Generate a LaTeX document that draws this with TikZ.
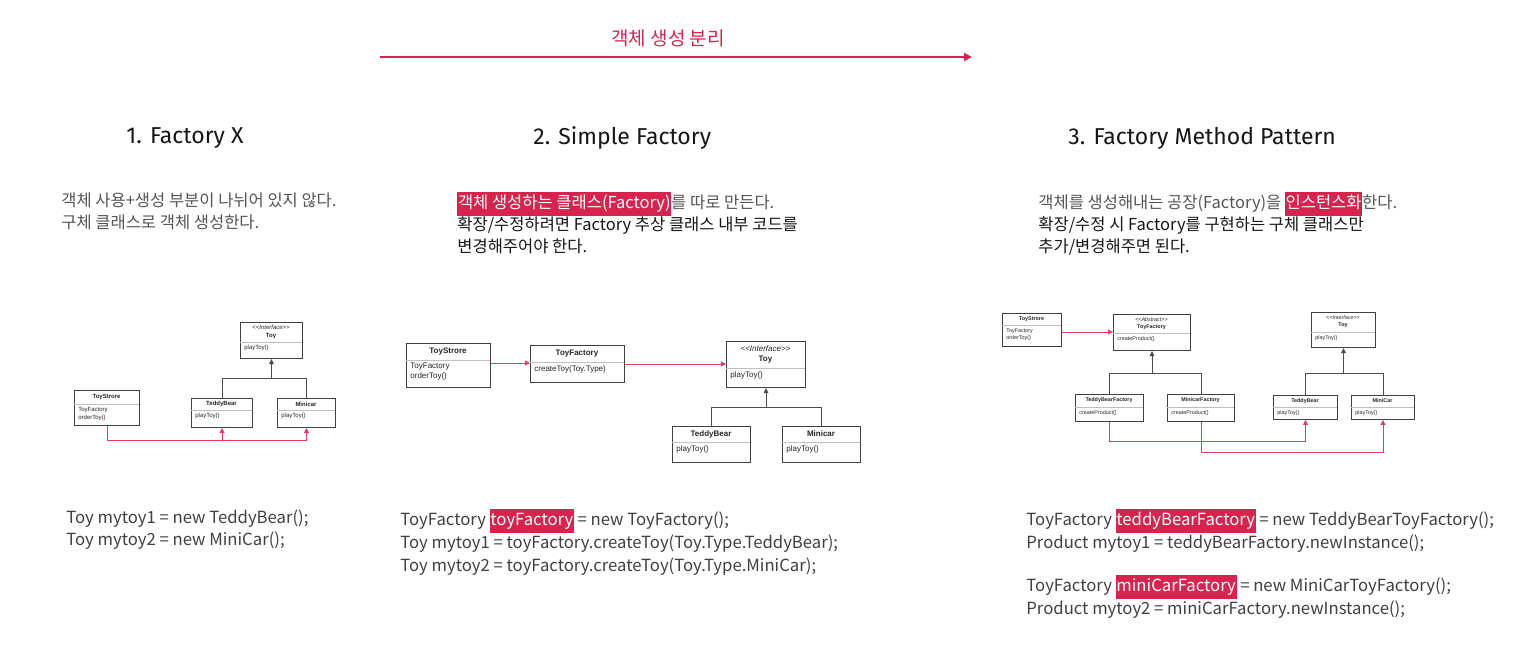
\documentclass[tikz,border=0pt]{standalone}
\usepackage{fontspec}
\setmainfont{Noto Sans CJK KR}
\newfontfamily\headfont{Fira Sans}
\newfontfamily\umlfont{Liberation Sans}
\usetikzlibrary{arrows.meta,calc}

\definecolor{hlred}{HTML}{D6244F}
\definecolor{linkred}{HTML}{E23C63}
\definecolor{txtgray}{HTML}{555555}
\definecolor{codegray}{HTML}{404040}
\definecolor{txtdark}{HTML}{161616}

\newcommand\hl[1]{{\setlength{\fboxsep}{0.3pt}\colorbox{hlred}{\textcolor{white}{\strut #1}}}}
\newcommand\umlA{\fontsize{3}{3.9}\selectfont}
\newcommand\umlB{\fontsize{4}{5}\selectfont}
\newcommand\umlC{\fontsize{2.7}{3.5}\selectfont}
\newcommand\stereo[1]{\textit{\textless\textless #1\textgreater\textgreater}}

\tikzset{
  umlrect/.style={draw=black!75, line width=0.5pt, inner sep=0pt, anchor=north west},
  umldiv/.style={draw=black!25, line width=0.4pt},
  umltext/.style={inner sep=0pt, text=black!85},
  umlline/.style={draw=black!70, line width=0.5pt},
  inherit/.style={umlline, -{Triangle[length=2.6pt,width=2.4pt]}},
  relline/.style={draw=linkred, line width=0.5pt, -{Triangle[length=2.4pt,width=2.4pt]}},
  headtext/.style={anchor=west, inner sep=0pt, font=\headfont\fontsize{11.5}{13}\selectfont, text=txtdark},
  desctext/.style={anchor=north west, inner sep=0pt, align=left, font=\fontsize{8.25}{11}\selectfont, text=txtdark},
  codetext/.style={anchor=north west, inner sep=0pt, align=left, font=\fontsize{8.35}{11.3}\selectfont, text=codegray},
}

% one uml class box: name, x1, y1, x2, y2, divider y, header, body, font
\newcommand\umlbox[9]{%
  \pgfmathsetmacro\boxw{(#4-#2)*0.5}%
  \pgfmathsetmacro\boxh{(#5-#3)*0.5}%
  \node[umlrect, minimum width=\boxw pt, minimum height=\boxh pt] (#1) at (#2,#3) {};
  \draw[umldiv] (#2,#6) -- (#4,#6);
  \node[umltext, font=\umlfont#9, align=center] at ({(#2+#4)/2},{(#3+#6)/2}) {#7};
  \node[umltext, font=\umlfont#9, align=left, anchor=north west] at (#2+4,#6+3) {#8};
}

\begin{document}
\begin{tikzpicture}[x=0.5pt,y=-0.5pt]
  \useasboundingbox[fill=white] (0,0) rectangle (1530,670);

  % title arrow
  \node[text=hlred, font=\fontsize{9.5}{11}\selectfont] (title) at (668,38) {객체 생성 분리};
  \coordinate (arrowS) at (380,57);
  \coordinate (arrowE) at (972,57);
  \draw[hlred, line width=1.2pt, -{Triangle[length=4pt,width=4pt]}] (arrowS) -- (arrowE);

  % headings
  \node[headtext] (headA) at (126,138) {1. Factory X};
  \node[headtext] (headB) at (533,138) {2. Simple Factory};
  \node[headtext] (headC) at (1068,138) {3. Factory Method Pattern};

  % descriptions
  \node[desctext, text=txtgray] (descA) at (61,192) {객체 사용+생성 부분이 나뉘어 있지 않다.\\구체 클래스로 객체 생성한다.};
  \node[desctext] (descB) at (457,192) {\textcolor{txtgray}{\hl{객체 생성하는 클래스(Factory)}를 따로 만든다.}\\확장/수정하려면 Factory 추상 클래스 내부 코드를\\변경해주어야 한다.};
  \node[desctext] (descC) at (1038,192) {\textcolor{txtgray}{객체를 생성해내는 공장(Factory)을 \hl{인스턴스화}한다.}\\확장/수정 시 Factory를 구현하는 구체 클래스만\\추가/변경해주면 된다.};

  % diagram 1
  \umlbox{toyA}{240}{322}{302}{358}{342}{\stereo{Interface}\\\textbf{Toy}}{playToy()}{\umlA}
  \umlbox{storeA}{74}{390}{139}{425}{404}{\textbf{ToyStrore}}{ToyFactory\\orderToy()}{\umlA}
  \umlbox{teddyA}{191}{398}{252}{427}{410}{\textbf{TeddyBear}}{playToy()}{\umlA}
  \umlbox{minicarA}{277}{398}{335}{427}{410}{\textbf{Minicar}}{playToy()}{\umlA}
  \draw[umlline] (teddyA.north) -- (teddyA.north |- 0,378) -- (minicarA.north |- 0,378) -- (minicarA.north);
  \draw[inherit] (toyA.south |- 0,378) -- (toyA.south);
  \draw[relline] (storeA.south) -- (storeA.south |- 0,440) -| (minicarA.south);
  \draw[relline] (teddyA.south |- 0,440) -- (teddyA.south);

  % diagram 2
  \umlbox{storeB}{406}{343}{490}{387}{360}{\textbf{ToyStrore}}{ToyFactory\\orderToy()}{\umlB}
  \umlbox{factoryB}{530}{345}{624}{382}{362}{\textbf{ToyFactory}}{createToy(Toy.Type)}{\umlB}
  \umlbox{toyB}{726}{341}{805}{387}{368}{\stereo{Interface}\\\textbf{Toy}}{playToy()}{\umlB}
  \umlbox{teddyB}{672}{426}{750}{462}{442}{\textbf{TeddyBear}}{playToy()}{\umlB}
  \umlbox{minicarB}{782}{426}{860}{462}{442}{\textbf{Minicar}}{playToy()}{\umlB}
  \draw[relline] (storeB.east |- 0,363) -- (factoryB.west |- 0,363);
  \draw[relline] (factoryB.east |- 0,364) -- (toyB.west |- 0,364);
  \draw[umlline] (teddyB.north) -- (teddyB.north |- 0,407) -- (minicarB.north |- 0,407) -- (minicarB.north);
  \draw[inherit] (toyB.south |- 0,407) -- (toyB.south);

  % diagram 3
  \umlbox{storeC}{1002}{313}{1061}{346}{325}{\textbf{ToyStrore}}{ToyFactory\\orderToy()}{\umlC}
  \umlbox{factoryC}{1113}{314}{1190}{350}{333}{\stereo{Abstract}\\\textbf{ToyFactory}}{createProduct()}{\umlC}
  \umlbox{toyC}{1311}{312}{1375}{347}{332}{\stereo{Interface}\\\textbf{Toy}}{playToy()}{\umlC}
  \umlbox{teddyfC}{1075}{394}{1143}{421}{407}{\textbf{TeddyBearFactory}}{createProduct()}{\umlC}
  \umlbox{minifC}{1167}{394}{1234}{421}{407}{\textbf{MinicarFactory}}{createProduct()}{\umlC}
  \umlbox{teddyC}{1273}{395}{1337}{419}{407}{\textbf{TeddyBear}}{playToy()}{\umlC}
  \umlbox{minicarC}{1351}{395}{1414}{419}{407}{\textbf{MiniCar}}{playToy()}{\umlC}
  \draw[relline] (storeC.east |- 0,332) -- (factoryC.west |- 0,332);
  \draw[umlline] (teddyfC.north) -- (teddyfC.north |- 0,373) -- (minifC.north |- 0,373) -- (minifC.north);
  \draw[inherit] (factoryC.south |- 0,373) -- (factoryC.south);
  \draw[umlline] (teddyC.north) -- (teddyC.north |- 0,373) -- (minicarC.north |- 0,373) -- (minicarC.north);
  \draw[inherit] (toyC.south |- 0,373) -- (toyC.south);
  \draw[relline] (teddyfC.south) -- (teddyfC.south |- 0,441) -| (teddyC.south);
  \draw[relline] (minifC.south) -- (minifC.south |- 0,452) -| (minicarC.south);

  % code
  \node[codetext] (codeA) at (66,509) {Toy mytoy1 = new TeddyBear();\\Toy mytoy2 = new MiniCar();};
  \node[codetext] (codeB) at (400,509) {ToyFactory \hl{toyFactory} = new ToyFactory();\\Toy mytoy1 = toyFactory.createToy(Toy.Type.TeddyBear);\\Toy mytoy2 = toyFactory.createToy(Toy.Type.MiniCar);};
  \node[codetext] (codeC) at (1026,509) {ToyFactory \hl{teddyBearFactory} = new TeddyBearToyFactory();\\Product mytoy1 = teddyBearFactory.newInstance();};
  \node[codetext] (codeD) at (1026,575) {ToyFactory \hl{miniCarFactory} = new MiniCarToyFactory();\\Product mytoy2 = miniCarFactory.newInstance();};
\end{tikzpicture}
\end{document}
